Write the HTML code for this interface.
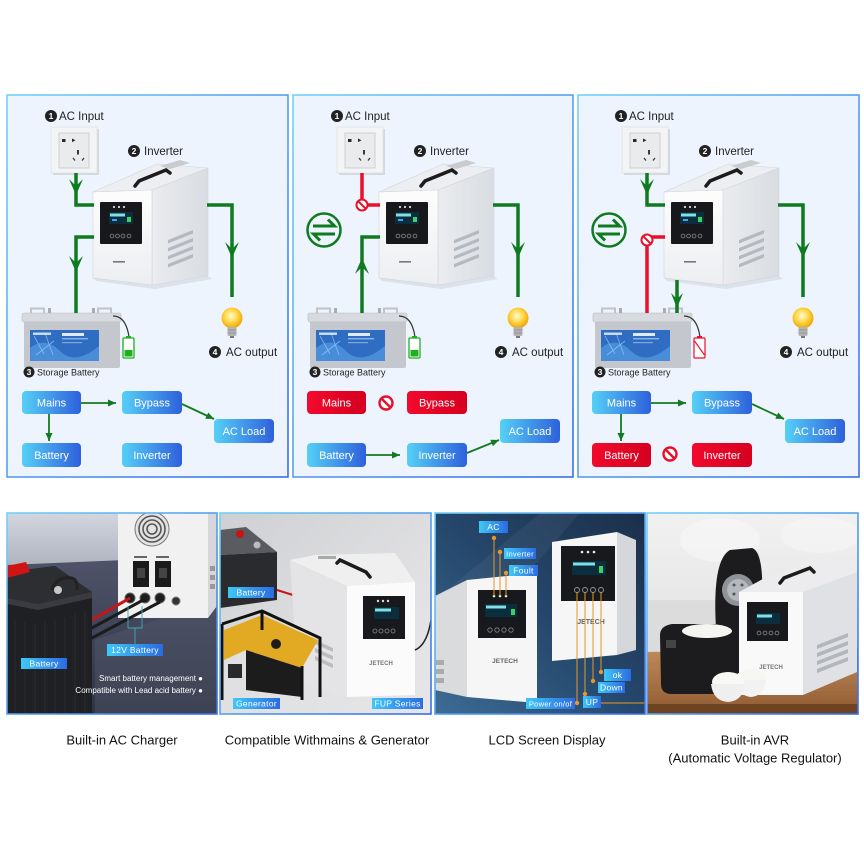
<!DOCTYPE html>
<html><head><meta charset="utf-8">
<style>html,body{margin:0;padding:0;background:#fff}svg{display:block}
.t{font-family:"Liberation Sans",Arial,sans-serif}
.bt{fill:#fff;font-size:11px;text-anchor:middle;font-family:"Liberation Sans",Arial,sans-serif}
.lbl{fill:#222;font-size:11.5px;font-family:"Liberation Sans",Arial,sans-serif}
.num{fill:#fff;font-size:8.5px;font-weight:bold;text-anchor:middle;font-family:"Liberation Sans",Arial,sans-serif}
.pl{fill:#fff;font-size:8.5px;text-anchor:middle;font-family:"Liberation Sans",Arial,sans-serif;letter-spacing:.3px}
.cap{fill:#111;font-size:13px;text-anchor:middle;font-family:"Liberation Sans",Arial,sans-serif}
</style></head>
<body>
<svg width="864" height="864" viewBox="0 0 864 864" xmlns="http://www.w3.org/2000/svg">
<defs>
<linearGradient id="bB" x1="0" y1="0" x2="1" y2="0"><stop offset="0" stop-color="#55d0f7"/><stop offset="1" stop-color="#2e60dc"/></linearGradient>
<linearGradient id="bR" x1="0" y1="0" x2="1" y2="0"><stop offset="0" stop-color="#f20a2c"/><stop offset="1" stop-color="#d6001f"/></linearGradient>
<linearGradient id="pS" x1="0" y1="0" x2="1" y2="1"><stop offset="0" stop-color="#72d2f6"/><stop offset="1" stop-color="#3a6de6"/></linearGradient>
<linearGradient id="lb" x1="0" y1="0" x2="1" y2="0"><stop offset="0" stop-color="#3ec8f7"/><stop offset="1" stop-color="#2b6be2"/></linearGradient>
<radialGradient id="bulbG" cx=".45" cy=".4" r=".6"><stop offset="0" stop-color="#fffbd8"/><stop offset=".5" stop-color="#ffd84a"/><stop offset="1" stop-color="#f0a400"/></radialGradient>
<linearGradient id="frontG" x1="0" y1="0" x2="0" y2="1"><stop offset="0" stop-color="#fdfdfd"/><stop offset="1" stop-color="#eceef1"/></linearGradient>
<linearGradient id="sideG" x1="0" y1="0" x2="1" y2="0"><stop offset="0" stop-color="#eaecef"/><stop offset="1" stop-color="#d9dce1"/></linearGradient>
<linearGradient id="wall1" x1="0" y1="0" x2="0" y2="1"><stop offset="0" stop-color="#d3d6de"/><stop offset="1" stop-color="#b0b4c0"/></linearGradient>
<linearGradient id="floor1" x1="0" y1="0" x2="0" y2="1"><stop offset="0" stop-color="#50546a"/><stop offset="1" stop-color="#2f3346"/></linearGradient>
<linearGradient id="bg2" x1="0" y1="0" x2="1" y2="1"><stop offset="0" stop-color="#cfd0d3"/><stop offset="1" stop-color="#eaeaec"/></linearGradient>
<linearGradient id="bg3" x1="0" y1="1" x2="1" y2="0"><stop offset="0" stop-color="#3d6c95"/><stop offset=".5" stop-color="#25476b"/><stop offset="1" stop-color="#1b2f4a"/></linearGradient>
<linearGradient id="bg4" x1="0" y1="0" x2="0" y2="1"><stop offset="0" stop-color="#f1f1f1"/><stop offset="1" stop-color="#dcdcdc"/></linearGradient>
<linearGradient id="wood" x1="0" y1="0" x2="0" y2="1"><stop offset="0" stop-color="#c08c5c"/><stop offset="1" stop-color="#8f5a30"/></linearGradient>
<marker id="ah" markerWidth="9" markerHeight="8" refX="8" refY="3.5" orient="auto" markerUnits="userSpaceOnUse"><path d="M0,0 L8,3.5 L0,7 z" fill="#137a22"/></marker>

<g id="sock">
<rect x="53" y="129" width="46" height="46" fill="#d3d8df"/>
<rect x="51" y="127" width="46" height="46" fill="#f3f4f5" stroke="#dfe1e4" stroke-width=".8"/>
<rect x="59" y="133" width="30" height="35" fill="#eaebed" stroke="#c6c9ce" stroke-width=".8"/>
<rect x="62" y="139" width="3.5" height="3" fill="#2a2a2a"/>
<path d="M72,138.5 l3.5,1.8 l-3.5,1.8z" fill="#2a2a2a"/>
<rect x="77" y="150" width="2" height="4.5" fill="#3a3a3a"/>
<path d="M73,158 l2,2.5 M84,158 l-2,2.5" stroke="#3a3a3a" stroke-width="1.3"/>
</g>

<g id="inv">
<polygon points="96,281 155,289 212,279 208,276 152,285 93,278" fill="#cfd5dd" opacity=".6"/>
<polygon points="93,192 152,190 208,168 157,164" fill="#eceef1" stroke="#d2d5da" stroke-width=".6"/>
<polygon points="152,190 208,168 208,276 152,285" fill="url(#sideG)" stroke="#d2d5da" stroke-width=".6"/>
<polygon points="93,192 152,190 152,285 93,278" fill="url(#frontG)" stroke="#d2d5da" stroke-width=".6"/>
<polygon points="160,166 180,160 190,163 170,169" fill="#c9cbcf"/>
<path d="M135,186 L139,181 L166,170 L170,173" stroke="#1c1c1c" stroke-width="3.5" fill="none" stroke-linecap="round"/>
<rect x="100" y="202" width="42" height="42" rx="1" fill="#17181c"/>
<rect x="109" y="212" width="24" height="12" fill="#0b2e3e"/>
<rect x="110" y="213.5" width="15" height="3" fill="#7fe0e8"/>
<rect x="112" y="219" width="5" height="2" fill="#3fa0ff"/>
<rect x="127" y="217" width="4" height="5" fill="#3fd060"/>
<circle cx="114" cy="207" r="1.1" fill="#ddd"/><circle cx="119" cy="207" r="1.1" fill="#ddd"/><circle cx="124" cy="207" r="1.1" fill="#ddd"/>
<g fill="none" stroke="#888" stroke-width=".8"><circle cx="112" cy="236" r="1.9"/><circle cx="117.5" cy="236" r="1.9"/><circle cx="123" cy="236" r="1.9"/><circle cx="129" cy="236" r="1.9"/></g>
<g fill="#b5b9c0"><polygon points="168,240 193,230 193,233.5 168,243.5"/><polygon points="168,248 193,238 193,241.5 168,251.5"/><polygon points="168,256 193,246 193,249.5 168,259.5"/><polygon points="168,264 193,254 193,257.5 168,267.5"/></g>
<rect x="113" y="261" width="12" height="1.6" fill="#777"/>
</g>

<g id="bat">
<rect x="24" y="319" width="96" height="49" rx="2" fill="#c4c8ce"/>
<rect x="22" y="313" width="99" height="9" rx="2" fill="#d7dade" stroke="#b8bcc2" stroke-width=".6"/>
<path d="M31,313 v-4.5 h13 v4.5" fill="none" stroke="#c0c3c8" stroke-width="2"/>
<path d="M98,313 v-4.5 h13 v4.5" fill="none" stroke="#c0c3c8" stroke-width="2"/>
<rect x="48" y="308" width="3" height="5" fill="#a9acb1"/><rect x="92" y="308" width="3" height="5" fill="#a9acb1"/>
<rect x="30" y="330" width="69" height="31" fill="#2f6dc2"/>
<path d="M30,348 q15,-12 30,3 t39,-5 v15 h-69z" fill="#5aa4e4" opacity=".6"/>
<path d="M34,336 l10,18 M45,333 l8,22 M36,355 l18,-14" stroke="#9fd0ff" stroke-width=".8" opacity=".7"/>
<rect x="33" y="332.5" width="18" height="2.5" fill="#e0f0ff" opacity=".85"/>
<rect x="62" y="333" width="22" height="3" fill="#fff" opacity=".85"/>
<rect x="62" y="338" width="26" height="1.4" fill="#cfe4ff" opacity=".6"/>
<rect x="62" y="342" width="20" height="1.2" fill="#cfe4ff" opacity=".5"/>
<path d="M113,316 q13,0 16,21" fill="none" stroke="#333" stroke-width="1.2"/>
</g>

<g id="bulb">
<circle cx="232" cy="318" r="10.5" fill="url(#bulbG)"/>
<rect x="227.5" y="327" width="9" height="9" rx="1.5" fill="#b4b4b4"/>
<path d="M227.5,330 h9 M227.5,333 h9" stroke="#8a8a8a" stroke-width=".8"/>
<rect x="230" y="336" width="4" height="2" fill="#777"/>
</g>

<g id="sw">
<circle cx="38" cy="230" r="16.5" fill="none" stroke="#0f7a20" stroke-width="2.5"/>
<path d="M27,226 H48.5 L42,219.5 M49,234 H27.5 L34,240.5" fill="none" stroke="#0f7a20" stroke-width="3"/>
</g>

<g id="nog"><circle r="5.5" fill="#fff" stroke="#e8102a" stroke-width="2"/><path d="M-3.9,-3.9 L3.9,3.9" stroke="#e8102a" stroke-width="2"/></g>
<g id="nob"><circle r="6.5" fill="#fff" stroke="#e8102a" stroke-width="2.4"/><path d="M-4.6,-4.6 L4.6,4.6" stroke="#e8102a" stroke-width="2.4"/></g>

<clipPath id="c1"><rect x="7" y="513" width="210" height="201"/></clipPath>
<clipPath id="c2"><rect x="220" y="513" width="211" height="201"/></clipPath>
<clipPath id="c3"><rect x="435" y="513" width="210" height="201"/></clipPath>
<clipPath id="c4"><rect x="647" y="513" width="211" height="201"/></clipPath>
</defs>

<rect width="864" height="864" fill="#fff"/>

<!-- PANEL 1 -->
<g>
<rect x="7" y="95" width="281" height="382" fill="#edf4fd" stroke="url(#pS)" stroke-width="1.6"/>
<use href="#sock"/><use href="#inv"/><use href="#bat"/><use href="#bulb"/>
<g fill="none" stroke="#0f7a20" stroke-width="3.5">
<path d="M76,173 V205 H94"/><path d="M94,237 H76 V313"/><path d="M207,205 H232 V297"/>
</g>
<g fill="#0f7a20">
<polygon points="69,179 76,195 83,179 76,186"/>
<polygon points="69,256 76,272 83,256 76,263"/>
<polygon points="225,242 232,258 239,242 232,249"/>
</g>
<rect x="123" y="338" width="11" height="20" rx="1" fill="#fff" stroke="#1eb01e" stroke-width="1.3"/>
<rect x="126" y="336" width="5" height="2" fill="#1eb01e"/>
<rect x="124.5" y="350" width="8" height="6.5" fill="#1eb01e"/>
<circle cx="51" cy="116" r="6" fill="#222"/><text class="num" x="51" y="119">1</text>
<text class="lbl" x="59" y="120">AC Input</text>
<circle cx="134" cy="151" r="6" fill="#222"/><text class="num" x="134" y="154">2</text>
<text class="lbl" x="144" y="155">Inverter</text>
<circle cx="29" cy="372" r="5.5" fill="#222"/><text class="num" x="29" y="375">3</text>
<text class="t" x="37" y="375.5" font-size="9" fill="#222">Storage Battery</text>
<circle cx="215" cy="352" r="6" fill="#222"/><text class="num" x="215" y="355">4</text>
<text class="lbl" x="226" y="356">AC output</text>
<rect x="22" y="391" width="59" height="23" rx="4" fill="url(#bB)"/><text class="bt" x="51.5" y="406.5">Mains</text>
<rect x="122" y="391" width="60" height="23" rx="4" fill="url(#bB)"/><text class="bt" x="152" y="406.5">Bypass</text>
<rect x="214" y="419" width="60" height="24" rx="4" fill="url(#bB)"/><text class="bt" x="244" y="435">AC Load</text>
<rect x="22" y="443" width="59" height="24" rx="4" fill="url(#bB)"/><text class="bt" x="51.5" y="459">Battery</text>
<rect x="122" y="443" width="60" height="24" rx="4" fill="url(#bB)"/><text class="bt" x="152" y="459">Inverter</text>
<g fill="none" stroke="#137a22" stroke-width="1.8" marker-end="url(#ah)">
<path d="M81,403 H116"/><path d="M182,404 L214,419"/><path d="M49,414 V441"/>
</g>
</g>

<!-- PANEL 2 -->
<g transform="translate(286,0)">
<rect x="7" y="95" width="280" height="382" fill="#edf4fd" stroke="url(#pS)" stroke-width="1.6"/>
<use href="#sock"/><use href="#inv"/><use href="#bat"/><use href="#bulb"/><use href="#sw"/>
<path d="M76,173 V205 H94" fill="none" stroke="#e8102a" stroke-width="3.5"/>
<use href="#nog" transform="translate(76,205)"/>
<g fill="none" stroke="#0f7a20" stroke-width="3.5">
<path d="M76,313 V237 H94"/><path d="M207,205 H232 V297"/>
</g>
<g fill="#0f7a20">
<polygon points="69,274 76,258 83,274 76,267"/>
<polygon points="225,242 232,258 239,242 232,249"/>
</g>
<rect x="123" y="338" width="11" height="20" rx="1" fill="#fff" stroke="#1eb01e" stroke-width="1.3"/>
<rect x="126" y="336" width="5" height="2" fill="#1eb01e"/>
<rect x="124.5" y="350" width="8" height="6.5" fill="#1eb01e"/>
<circle cx="51" cy="116" r="6" fill="#222"/><text class="num" x="51" y="119">1</text>
<text class="lbl" x="59" y="120">AC Input</text>
<circle cx="134" cy="151" r="6" fill="#222"/><text class="num" x="134" y="154">2</text>
<text class="lbl" x="144" y="155">Inverter</text>
<circle cx="29" cy="372" r="5.5" fill="#222"/><text class="num" x="29" y="375">3</text>
<text class="t" x="37" y="375.5" font-size="9" fill="#222">Storage Battery</text>
<circle cx="215" cy="352" r="6" fill="#222"/><text class="num" x="215" y="355">4</text>
<text class="lbl" x="226" y="356">AC output</text>
<rect x="21" y="391" width="59" height="23" rx="4" fill="url(#bR)"/><text class="bt" x="50.5" y="406.5">Mains</text>
<use href="#nob" transform="translate(100,403)"/>
<rect x="121" y="391" width="60" height="23" rx="4" fill="url(#bR)"/><text class="bt" x="151" y="406.5">Bypass</text>
<rect x="214" y="419" width="60" height="24" rx="4" fill="url(#bB)"/><text class="bt" x="244" y="435">AC Load</text>
<rect x="21" y="443" width="59" height="24" rx="4" fill="url(#bB)"/><text class="bt" x="50.5" y="459">Battery</text>
<rect x="121" y="443" width="60" height="24" rx="4" fill="url(#bB)"/><text class="bt" x="151" y="459">Inverter</text>
<g fill="none" stroke="#137a22" stroke-width="1.8" marker-end="url(#ah)">
<path d="M80,455 H114"/><path d="M181,453 L213,440"/>
</g>
</g>

<!-- PANEL 3 -->
<g transform="translate(571,0)">
<rect x="7" y="95" width="281" height="382" fill="#edf4fd" stroke="url(#pS)" stroke-width="1.6"/>
<use href="#sock"/><use href="#inv"/><use href="#bat"/><use href="#bulb"/><use href="#sw"/>
<g fill="none" stroke="#0f7a20" stroke-width="3.5">
<path d="M76,173 V205 H94"/><path d="M207,205 H232 V297"/><path d="M106,280 V313"/>
</g>
<path d="M94,237 H76 V313" fill="none" stroke="#e8102a" stroke-width="3.5"/>
<use href="#nog" transform="translate(76,240)"/>
<g fill="#0f7a20">
<polygon points="69,179 76,195 83,179 76,186"/>
<polygon points="225,242 232,258 239,242 232,249"/>
<polygon points="100,293 106,308 112,293 106,299"/>
</g>
<rect x="123" y="338" width="11" height="20" rx="1" fill="#fff" stroke="#e8102a" stroke-width="1.2"/>
<rect x="126" y="336" width="5" height="2" fill="#e8102a"/>
<path d="M123.5,341 L133.5,355" stroke="#e8102a" stroke-width="1.1"/>
<circle cx="50" cy="116" r="6" fill="#222"/><text class="num" x="50" y="119">1</text>
<text class="lbl" x="58" y="120">AC Input</text>
<circle cx="134" cy="151" r="6" fill="#222"/><text class="num" x="134" y="154">2</text>
<text class="lbl" x="144" y="155">Inverter</text>
<circle cx="29" cy="372" r="5.5" fill="#222"/><text class="num" x="29" y="375">3</text>
<text class="t" x="37" y="375.5" font-size="9" fill="#222">Storage Battery</text>
<circle cx="215" cy="352" r="6" fill="#222"/><text class="num" x="215" y="355">4</text>
<text class="lbl" x="226" y="356">AC output</text>
<rect x="21" y="391" width="59" height="23" rx="4" fill="url(#bB)"/><text class="bt" x="50.5" y="406.5">Mains</text>
<rect x="121" y="391" width="60" height="23" rx="4" fill="url(#bB)"/><text class="bt" x="151" y="406.5">Bypass</text>
<rect x="214" y="419" width="60" height="24" rx="4" fill="url(#bB)"/><text class="bt" x="244" y="435">AC Load</text>
<rect x="21" y="443" width="59" height="24" rx="4" fill="url(#bR)"/><text class="bt" x="50.5" y="459">Battery</text>
<use href="#nob" transform="translate(99,454)"/>
<rect x="121" y="443" width="60" height="24" rx="4" fill="url(#bR)"/><text class="bt" x="151" y="459">Inverter</text>
<g fill="none" stroke="#137a22" stroke-width="1.8" marker-end="url(#ah)">
<path d="M80,403 H115"/><path d="M181,404 L213,419"/><path d="M50,414 V441"/>
</g>
</g>

<!-- PHOTO 1 -->
<g clip-path="url(#c1)">
<rect x="7" y="513" width="210" height="201" fill="#3a3e50"/>
<rect x="7" y="513" width="210" height="52" fill="url(#wall1)"/>
<polygon points="7,565 217,556 217,714 7,714" fill="url(#floor1)"/>
<polygon points="95,640 217,600 217,714 95,714" fill="#5a5e70" opacity=".35"/>
<rect x="118" y="513" width="90" height="105" fill="#f1f1f2"/>
<polygon points="208,513 217,513 217,606 208,618" fill="#d6d7da"/>
<rect x="210" y="566" width="5" height="5" fill="#999"/><rect x="210" y="575" width="5" height="5" fill="#999"/><rect x="210" y="584" width="5" height="5" fill="#999"/>
<circle cx="152" cy="529" r="17" fill="#e3e3e3" stroke="#777" stroke-width="1"/>
<g fill="none" stroke="#555" stroke-width="1.6"><circle cx="152" cy="529" r="13"/><circle cx="152" cy="529" r="9"/><circle cx="152" cy="529" r="5"/></g>
<rect x="133" y="561" width="16" height="26" fill="#1a1a1a"/><rect x="155" y="561" width="16" height="26" fill="#1a1a1a"/>
<rect x="137" y="568" width="8" height="10" fill="#444"/><rect x="159" y="568" width="8" height="10" fill="#444"/>
<rect x="134" y="556" width="13" height="2" fill="#666"/><rect x="156" y="556" width="13" height="2" fill="#666"/>
<circle cx="130" cy="598" r="5" fill="#1e1e1e" stroke="#666"/><circle cx="145" cy="598" r="5" fill="#1e1e1e" stroke="#666"/><circle cx="160" cy="598" r="5" fill="#1e1e1e" stroke="#666"/><circle cx="176" cy="601" r="4" fill="#333" stroke="#777"/>
<path d="M130,598 L90,621" stroke="#c81414" stroke-width="3"/>
<path d="M145,599 L90,629" stroke="#1b1b1b" stroke-width="3"/>
<path d="M160,602 L90,639" stroke="#1b1b1b" stroke-width="3"/>
<path d="M128,606 V628 H142 V606 M135,628 V644" fill="none" stroke="#3aa8b8" stroke-width=".9"/>
<polygon points="7,572 55,566 92,592 92,714 7,714" fill="#1f2023"/>
<polygon points="7,572 55,566 92,592 38,604 7,598" fill="#2d2e32"/>
<polygon points="7,598 38,604 92,592 92,598 38,610 7,604" fill="#3a3b40"/>
<path d="M15,620 V714 M25,622 V714 M35,623 V714 M45,622 V714 M55,620 V714 M65,617 V714 M75,614 V714 M85,611 V714" stroke="#28292d" stroke-width="1.5"/>
<polygon points="7,566 26,562 30,572 7,578" fill="#d01414"/>
<path d="M52,590 q4,-14 20,-12 q6,2 5,12" fill="none" stroke="#222" stroke-width="3"/>
<circle cx="58" cy="590" r="4" fill="#c8c8c8"/>
<rect x="21" y="658" width="46" height="11" fill="url(#lb)"/><text class="pl" x="44" y="666.5">Battery</text>
<rect x="107" y="644" width="56" height="12" fill="url(#lb)"/><text class="pl" x="135" y="653">12V Battery</text>
<text class="t" x="203" y="681" font-size="8" fill="#fff" text-anchor="end">Smart battery management ●</text>
<text class="t" x="203" y="693" font-size="8" fill="#fff" text-anchor="end">Compatible with Lead acid battery ●</text>
</g>
<rect x="7" y="513" width="210" height="201" fill="none" stroke="url(#pS)" stroke-width="1.6"/>

<!-- PHOTO 2 -->
<g clip-path="url(#c2)">
<rect x="220" y="513" width="211" height="201" fill="url(#bg2)"/>
<polygon points="220,650 431,600 431,714 220,714" fill="#e2e2e4" opacity=".6"/>
<polygon points="220,530 246,527 277,552 220,555" fill="#5a5b60"/>
<polygon points="220,555 277,552 277,600 220,608" fill="#2a2b2e"/>
<circle cx="240" cy="534" r="4" fill="#c81414"/><circle cx="257" cy="545" r="3.5" fill="#bbb"/>
<path d="M277,590 L296,596" stroke="#c81414" stroke-width="2"/>
<polygon points="290,560 315,555 395,553 415,582 347,586" fill="#efefef"/>
<polygon points="290,560 347,586 347,697 298,682" fill="#e4e4e6"/>
<polygon points="347,586 415,582 415,695 347,697" fill="#fbfbfb"/>
<path d="M337,563 L340,560 L366,572 L370,577" stroke="#1c1c1c" stroke-width="3.5" fill="none" stroke-linecap="round"/>
<rect x="318" y="556" width="18" height="3" fill="#aaa"/>
<g fill="#bdbdc1"><polygon points="315,640 333,648 333,652 315,644"/><polygon points="315,648 333,656 333,660 315,652"/><polygon points="315,656 333,664 333,668 315,660"/></g>
<rect x="363" y="596" width="42" height="43" fill="#18191c"/>
<rect x="374" y="607" width="25" height="12" fill="#0b2e3e"/><rect x="375" y="608.5" width="16" height="3" fill="#7fe0e8"/>
<g fill="#ddd"><circle cx="378" cy="601" r="1.2"/><circle cx="383" cy="601" r="1.2"/><circle cx="388" cy="601" r="1.2"/></g>
<g fill="none" stroke="#888" stroke-width=".8"><circle cx="375" cy="631" r="2"/><circle cx="381" cy="631" r="2"/><circle cx="387" cy="631" r="2"/><circle cx="393" cy="631" r="2"/></g>
<text class="t" x="381" y="665" font-size="6" font-weight="bold" fill="#777" text-anchor="middle">JETECH</text>
<path d="M415,650 q12,-5 16,-30" fill="none" stroke="#222" stroke-width="1.5"/>
<polygon points="224,630 262,615 318,640 302,668 246,650 224,660" fill="#e2aa22"/>
<polygon points="246,650 302,668 302,697 246,690" fill="#1c1c1c"/>
<circle cx="276" cy="644" r="5" fill="#1c1c1c"/>
<path d="M222,624 L262,611 L320,638 L320,697 M262,611 L262,630 M222,624 V700 M302,666 V700" fill="none" stroke="#111" stroke-width="3"/>
<rect x="228" y="664" width="14" height="14" fill="#2a2a2a"/>
<rect x="228" y="587" width="46" height="11" fill="url(#lb)"/><text class="pl" x="251" y="595.5">Battery</text>
<rect x="233" y="698" width="47" height="11" fill="url(#lb)"/><text class="pl" x="256.5" y="706.5">Generator</text>
<rect x="372" y="698" width="51" height="11" fill="url(#lb)"/><text class="pl" x="397.5" y="706.5">FUP Series</text>
</g>
<rect x="220" y="513" width="211" height="201" fill="none" stroke="url(#pS)" stroke-width="1.6"/>

<!-- PHOTO 3 -->
<g clip-path="url(#c3)">
<rect x="435" y="513" width="210" height="201" fill="url(#bg3)"/>
<polygon points="435,600 540,513 580,513 435,680" fill="#fff" opacity=".05"/>
<polygon points="435,596 467,580 467,697 435,690" fill="#dadbdd"/>
<g fill="#a9abaf"><rect x="436" y="660" width="8" height="5"/><rect x="436" y="669" width="8" height="5"/><rect x="436" y="678" width="8" height="5"/></g>
<polygon points="467,580 537,573 537,703 467,697" fill="#f6f6f7"/>
<rect x="478" y="590" width="48" height="48" fill="#18191c"/>
<rect x="485" y="604" width="32" height="13" fill="#0b2e3e"/><rect x="486" y="605.5" width="20" height="3" fill="#7fe0e8"/><rect x="511" y="609" width="4" height="6" fill="#3fd060"/>
<g fill="#eee"><circle cx="494" cy="596" r="1.3"/><circle cx="500" cy="596" r="1.3"/><circle cx="506" cy="596" r="1.3"/></g>
<g fill="none" stroke="#888" stroke-width=".8"><circle cx="490" cy="630" r="2.2"/><circle cx="497" cy="630" r="2.2"/><circle cx="504" cy="630" r="2.2"/><circle cx="511" cy="630" r="2.2"/></g>
<text class="t" x="505" y="663" font-size="6.5" font-weight="bold" fill="#666" text-anchor="middle">JETECH</text>
<polygon points="552,542 617,532 617,655 552,661" fill="#f6f6f7"/>
<polygon points="617,532 636,540 636,650 617,655" fill="#d6d7da"/>
<rect x="561" y="546" width="54" height="55" fill="#18191c"/>
<rect x="572" y="561" width="34" height="14" fill="#0b2e3e"/><rect x="573" y="562.5" width="22" height="3" fill="#7fe0e8"/><rect x="599" y="566" width="4" height="7" fill="#3fd060"/>
<g fill="#eee"><circle cx="582" cy="552" r="1.3"/><circle cx="588" cy="552" r="1.3"/><circle cx="594" cy="552" r="1.3"/></g>
<g fill="none" stroke="#999" stroke-width=".9"><circle cx="577" cy="590" r="2.5"/><circle cx="585" cy="590" r="2.5"/><circle cx="593" cy="590" r="2.5"/><circle cx="601" cy="590" r="2.5"/></g>
<text class="t" x="591" y="624" font-size="7" font-weight="bold" fill="#666" text-anchor="middle">JETECH</text>
<g fill="none" stroke="#e8962a" stroke-width="1">
<path d="M494,538 V596 M500,552 V596 M506,573 V596"/>
<path d="M577,592 V703 M585,592 V694 M593,592 V681 M601,592 V672"/>
<path d="M601,703 H645"/>
</g>
<g fill="#e8962a"><circle cx="494" cy="538" r="2.2"/><circle cx="500" cy="552" r="2.2"/><circle cx="506" cy="573" r="2.2"/><circle cx="577" cy="703" r="2.2"/><circle cx="585" cy="694" r="2.2"/><circle cx="593" cy="681" r="2.2"/><circle cx="601" cy="672" r="2.2"/></g>
<rect x="479" y="521" width="29" height="12" fill="url(#lb)"/><text class="pl" x="493.5" y="530">AC</text>
<rect x="504" y="548" width="32" height="11" fill="url(#lb)"/><text class="pl" x="520" y="556.5" style="font-size:7.5px">Inverter</text>
<rect x="509" y="565" width="29" height="11" fill="url(#lb)"/><text class="pl" x="523.5" y="573.5">Foult</text>
<rect x="604" y="669" width="27" height="12" fill="url(#lb)"/><text class="pl" x="617.5" y="678">ok</text>
<rect x="598" y="682" width="27" height="11" fill="url(#lb)"/><text class="pl" x="611.5" y="690.5">Down</text>
<rect x="526" y="698" width="49" height="11" fill="url(#lb)"/><text class="pl" x="550.5" y="706.5" style="font-size:7.5px">Power on/of</text>
<rect x="583" y="696" width="18" height="12" fill="url(#lb)"/><text class="pl" x="592" y="705">UP</text>
</g>
<rect x="435" y="513" width="210" height="201" fill="none" stroke="url(#pS)" stroke-width="1.6"/>

<!-- PHOTO 4 -->
<g clip-path="url(#c4)">
<rect x="647" y="513" width="211" height="201" fill="url(#bg4)"/>
<rect x="647" y="600" width="211" height="55" fill="#d6d6d6" opacity=".6"/>
<ellipse cx="720" cy="540" rx="40" ry="22" fill="#fafafa" opacity=".5"/>
<ellipse cx="820" cy="535" rx="40" ry="18" fill="#f8f8f8" opacity=".5"/>
<polygon points="647,652 858,648 858,714 647,714" fill="url(#wood)"/>
<rect x="647" y="704" width="211" height="10" fill="#6e4322"/>
<path d="M647,664 H858 M647,676 H858 M647,690 H858" stroke="#a87448" stroke-width=".8" opacity=".6"/>
<path d="M716,628 Q712,560 730,550 L752,548 Q764,552 762,600 L760,628 z" fill="#1c1c1e"/>
<circle cx="738" cy="590" r="16" fill="#8f9297"/><circle cx="738" cy="590" r="11" fill="#b4b7bb"/>
<g fill="#555"><circle cx="734" cy="585" r="1.5"/><circle cx="742" cy="585" r="1.5"/><circle cx="734" cy="594" r="1.5"/><circle cx="742" cy="594" r="1.5"/></g>
<path d="M660,635 Q660,626 672,624 L740,624 Q750,626 750,636 L748,688 Q746,694 736,694 L672,694 Q661,694 661,684 z" fill="#1c1c1e"/>
<ellipse cx="707" cy="631" rx="25" ry="7" fill="#f4f4f0"/>
<rect x="666" y="640" width="10" height="8" fill="#444"/>
<polygon points="739,592 770,575 827,560 857,572 803,592" fill="#ececee"/>
<polygon points="803,592 857,572 857,672 803,695" fill="#e0e1e4"/>
<polygon points="739,592 803,592 803,695 739,695" fill="#f9f9fa"/>
<path d="M780,583 L784,578 L810,568 L814,572" stroke="#1c1c1c" stroke-width="3.5" fill="none" stroke-linecap="round"/>
<g fill="#b3b6bc"><polygon points="817,645 848,633 848,637 817,649"/><polygon points="817,653 848,641 848,645 817,657"/><polygon points="817,661 848,649 848,653 817,665"/><polygon points="817,669 848,657 848,661 817,673"/></g>
<rect x="747" y="602" width="41" height="39" fill="#18191c"/>
<rect x="756" y="613" width="24" height="11" fill="#0b2e3e"/><rect x="757" y="614.5" width="15" height="3" fill="#7fe0e8"/>
<g fill="none" stroke="#888" stroke-width=".8"><circle cx="759" cy="633" r="1.9"/><circle cx="765" cy="633" r="1.9"/><circle cx="771" cy="633" r="1.9"/><circle cx="777" cy="633" r="1.9"/></g>
<text class="t" x="771" y="669" font-size="6" font-weight="bold" fill="#777" text-anchor="middle">JETECH</text>
<ellipse cx="751" cy="678" rx="15" ry="9" fill="#f6f6f2"/>
<path d="M736,680 Q738,696 751,697 Q764,696 766,680 z" fill="#f2f2f2"/>
<ellipse cx="728" cy="682" rx="16" ry="10" fill="#f8f8f4"/>
<path d="M711,684 Q713,701 728,702 Q743,701 745,684 z" fill="#efefef"/>
</g>
<rect x="647" y="513" width="211" height="201" fill="none" stroke="url(#pS)" stroke-width="1.6"/>

<!-- CAPTIONS -->
<text class="cap" x="122" y="744.5">Built-in AC Charger</text>
<text class="cap" x="327" y="744.5">Compatible Withmains &amp; Generator</text>
<text class="cap" x="547" y="744.5">LCD Screen Display</text>
<text class="cap" x="755" y="744.5">Built-in AVR</text>
<text class="cap" x="755" y="762.5">(Automatic Voltage Regulator)</text>
</svg>
</body></html>
